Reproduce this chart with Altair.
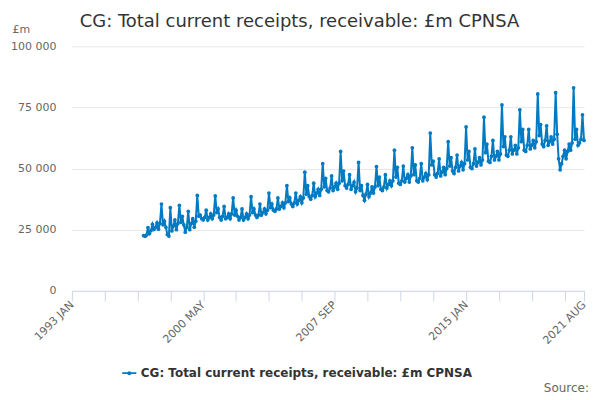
import pandas as pd
import altair as alt

# monthly values, £m (Jan..Dec)
y1997 = [22600, 22300, 22800, 25900, 23400, 24600, 27200, 25100, 26000, 27800, 25200, 27600]
y1998 = [35500, 27000, 28500, 26000, 23000, 22400, 34000, 24500, 26500, 29000, 25000, 27500]
y1999 = [35000, 28000, 30500, 27000, 24000, 26000, 32500, 25000, 27500, 29500, 26000, 28500]
y2000 = [39000, 30500, 31000, 29500, 29000, 30000, 33000, 29000, 30000, 31500, 29500, 31000]
y2001 = [38800, 32000, 33500, 30000, 29000, 30500, 34500, 29500, 30000, 31500, 29500, 31500]
y2002 = [38000, 31000, 33000, 30500, 29000, 30000, 33500, 29000, 30000, 31500, 29500, 31000]
y2003 = [38500, 32000, 33500, 31000, 30000, 31000, 35500, 31000, 32000, 33500, 31500, 33000]
y2004 = [40000, 34000, 35500, 33000, 32500, 33500, 38000, 33500, 34500, 36000, 34000, 36000]
y2005 = [43000, 36500, 38000, 35500, 34500, 36000, 40000, 35500, 37000, 38500, 36000, 38000]
y2006 = [48500, 39500, 43000, 38500, 37500, 39000, 44000, 38500, 40000, 41500, 39000, 41500]
y2007 = [52000, 42500, 46000, 41000, 40500, 42000, 47000, 41000, 42500, 44000, 41500, 44000]
y2008 = [57000, 45000, 49000, 43000, 42000, 43500, 47500, 41500, 43000, 44500, 40500, 42000]
y2009 = [52500, 41000, 43000, 39000, 37000, 39500, 43500, 38500, 40000, 42500, 40000, 42500]
y2010 = [50800, 43000, 46500, 41500, 41000, 42500, 47500, 42000, 43500, 45000, 43000, 45000]
y2011 = [57500, 46500, 50500, 44000, 43500, 45000, 51000, 44500, 46000, 47500, 44500, 47000]
y2012 = [58500, 47500, 51500, 45000, 44500, 46000, 52000, 45000, 46500, 48000, 45500, 47500]
y2013 = [64500, 51500, 53000, 47500, 46500, 48000, 54000, 47000, 48500, 50500, 47500, 50000]
y2014 = [61000, 51000, 54500, 49000, 48000, 50500, 55500, 49000, 51000, 52500, 49500, 52000]
y2015 = [67000, 53500, 57000, 50500, 50000, 52000, 58000, 51000, 52500, 54500, 51500, 53500]
y2016 = [71000, 56500, 60000, 53000, 52500, 55000, 61500, 53500, 55000, 57000, 53500, 56000]
y2017 = [76000, 59000, 63000, 55500, 55000, 57500, 63000, 56000, 57500, 59500, 56000, 58500]
y2018 = [74000, 61000, 66000, 57500, 57000, 59500, 66000, 58000, 59500, 61500, 58500, 61000]
y2019 = [80500, 63500, 68000, 60000, 59000, 61500, 67500, 59500, 61000, 63000, 60000, 62000]
y2020 = [81000, 64000, 54000, 49500, 52000, 55000, 57500, 54000, 57000, 60000, 57500, 60500]
y2021 = [83000, 62000, 66000, 59500, 60500, 62000, 72000, 61500]

series_name = 'CG: Total current receipts, receivable: £m CPNSA'
tick_months = ['1993-01', '1994-11', '1996-09', '1998-07', '2000-05', '2002-03',
               '2004-01', '2005-11', '2007-09', '2009-07', '2011-05', '2013-03',
               '2015-01', '2016-11', '2018-09', '2020-07', '2021-08']
shown_labels = ['1993 JAN', '2000 MAY', '2007 SEP', '2015 JAN', '2021 AUG']
y_ticks = [0, 25000, 50000, 75000, 100000]

values = (y1997 + y1998 + y1999 + y2000 + y2001 + y2002 + y2003 + y2004 + y2005
          + y2006 + y2007 + y2008 + y2009 + y2010 + y2011 + y2012 + y2013 + y2014
          + y2015 + y2016 + y2017 + y2018 + y2019 + y2020 + y2021)
months = pd.date_range('1997-01-01', periods=len(values), freq='MS')
df = pd.DataFrame({'date': months.strftime('%Y-%m-%d'), 'value': values, 'series': series_name})
notes = pd.DataFrame({'title': [series_name], 'source': ['Source:']})

tick_values = [alt.DateTime(year=int(t[:4]), month=int(t[5:]), date=1, utc=True) for t in tick_months]
label_list = '[' + ','.join("'" + s + "'" for s in shown_labels) + ']'
lbl = "utcFormat(datum.value, '%Y') + ' ' + upper(utcFormat(datum.value, '%b'))"

legend_symbol = ('M-1,-0.13H1V0.13H-1Z '
                 'M-0.28,0A0.28,0.28 0 1,1 0.28,0A0.28,0.28 0 1,1 -0.28,0Z')

line = alt.Chart(df).mark_line(
    strokeWidth=2,
    point=alt.OverlayMarkDef(size=14, filled=True)
).encode(
    x=alt.X('date:T',
            scale=alt.Scale(type='utc', domain=[alt.DateTime(year=1993, month=1, date=1, utc=True),
                                                alt.DateTime(year=2021, month=8, date=1, utc=True)],
                            nice=False),
            axis=alt.Axis(title=None, values=tick_values, grid=False, tickSize=10,
                          tickColor='#ccd6eb', domainColor='#ccd6eb', labelAngle=-45,
                          labelAlign='right', labelBaseline='middle', labelPadding=2,
                          labelOverlap=False, labelFlush=False,
                          labelExpr='indexof(' + label_list + ', ' + lbl + ') >= 0 ? ' + lbl + " : ''")),
    y=alt.Y('value:Q',
            scale=alt.Scale(domain=[0, 100000], nice=False),
            axis=alt.Axis(title='£m', titleAngle=0, titleX=-60, titleY=-12, titleAlign='left',
                          titleFontWeight='normal', titleColor='#666666', titleFontSize=11,
                          values=y_ticks, ticks=False, domain=False, gridColor='#e6e6e6',
                          labelPadding=16,
                          labelExpr="replace(format(datum.value, ','), ',', ' ')")),
    color=alt.Color('series:N', scale=alt.Scale(range=['#007ac3']),
                    legend=alt.Legend(title=None, orient='none', legendX=50, legendY=320,
                                      symbolType=legend_symbol, symbolSize=200,
                                      symbolStrokeWidth=0, labelFontSize=12,
                                      labelFontWeight='bold', labelColor='#333333',
                                      labelLimit=500))
)

title = alt.Chart(notes).mark_text(
    align='center', baseline='alphabetic', fontSize=18, color='#333333'
).encode(
    x=alt.value(228), y=alt.value(-19), text='title:N'
)

source = alt.Chart(notes).mark_text(
    align='right', baseline='alphabetic', fontSize=12, color='#666666'
).encode(
    x=alt.value(518), y=alt.value(346), text='source:N'
)

chart = alt.layer(line, title, source).properties(
    width=513,
    height=245,
    autosize=alt.AutoSizeParams(type='none'),
    padding={'left': 64, 'top': 38, 'right': 8, 'bottom': 105}
).configure(
    font='DejaVu Sans'
).configure_axis(
    labelFontSize=11,
    labelColor='#666666'
).configure_view(
    strokeWidth=0
)

chart.save('out.html', embed_options={'renderer': 'svg', 'actions': False})
